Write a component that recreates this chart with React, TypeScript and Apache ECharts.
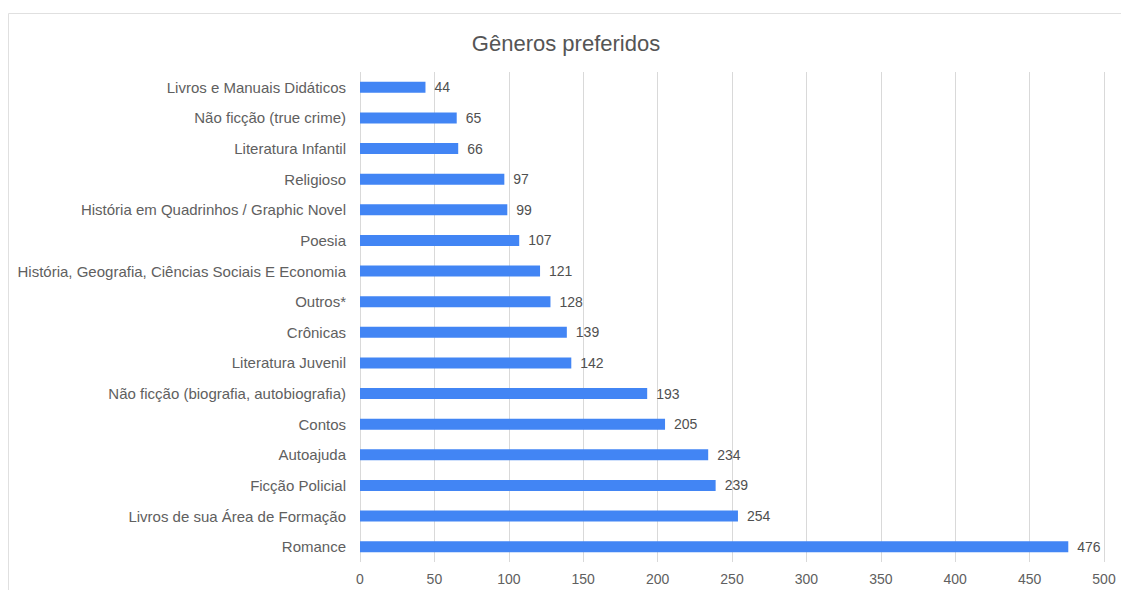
import React, { useEffect, useRef } from "react";
import * as echarts from "echarts";

const categories = [
  "Livros e Manuais Didáticos",
  "Não ficção (true crime)",
  "Literatura Infantil",
  "Religioso",
  "História em Quadrinhos / Graphic Novel",
  "Poesia",
  "História, Geografia, Ciências Sociais E Economia",
  "Outros*",
  "Crônicas",
  "Literatura Juvenil",
  "Não ficção (biografia, autobiografia)",
  "Contos",
  "Autoajuda",
  "Ficção Policial",
  "Livros de sua Área de Formação",
  "Romance",
];
const values = [44, 65, 66, 97, 99, 107, 121, 128, 139, 142, 193, 205, 234, 239, 254, 476];
const title = "Gêneros preferidos";

const FONT = "Arial, 'Liberation Sans', sans-serif";

export default function App() {
  const ref = useRef<HTMLDivElement>(null);
  useEffect(() => {
    document.body.style.margin = "0";
    const chart = echarts.init(ref.current!, null, { renderer: "svg" });
    chart.setOption({
      animation: false,
      textStyle: { fontFamily: FONT },
      title: {
        text: title,
        left: 561,
        top: 27,
        textAlign: "center",
        textStyle: { fontSize: 22, fontWeight: "normal", color: "#555", fontFamily: FONT },
      },
      graphic: [
        {
          type: "rect",
          shape: { x: 8.5, y: 13.5, width: 1300, height: 800 },
          style: { fill: "none", stroke: "#e0e0e0", lineWidth: 1 },
          silent: true,
        },
      ],
      grid: { left: 360, right: 17, top: 72, bottom: 28 },
      xAxis: {
        type: "value",
        min: 0,
        max: 500,
        interval: 50,
        axisLine: { show: false },
        axisTick: { show: false },
        axisLabel: { color: "#606060", fontSize: 14, margin: 10 },
        splitLine: { show: true, lineStyle: { color: "#d9d9d9", width: 1 } },
      },
      yAxis: {
        type: "category",
        inverse: true,
        data: categories,
        axisLine: { show: false },
        axisTick: { show: false },
        axisLabel: { color: "#606060", fontSize: 15, margin: 14 },
      },
      series: [
        {
          type: "bar",
          data: values,
          barWidth: 11,
          itemStyle: { color: "#4285f4" },
          label: { show: true, position: "right", distance: 9, color: "#505050", fontSize: 14 },
        },
      ],
    });
    return () => chart.dispose();
  }, []);
  return <div ref={ref} style={{ width: 1121, height: 590 }} />;
}
